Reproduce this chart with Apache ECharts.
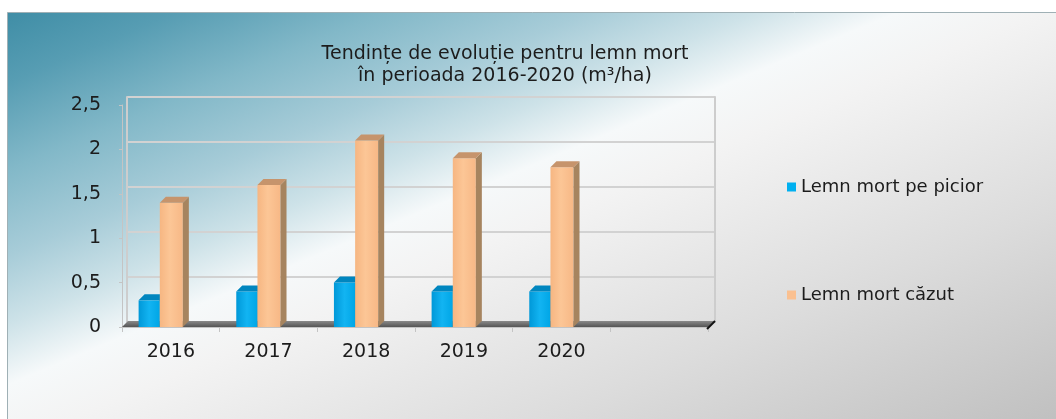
<!DOCTYPE html>
<html>
<head>
<meta charset="utf-8">
<title>Lemn mort</title>
<script src="https://cdn.jsdelivr.net/npm/echarts@6/dist/echarts.min.js"></script>
<style>
html, body { margin: 0; padding: 0; background: #fff; }
#chart { width: 1056px; height: 419px; }
</style>
</head>
<body>
<div id="chart"></div>
<script>
// date
var years = ['2016', '2017', '2018', '2019', '2020', ''];
var yTicks = [0, 0.5, 1, 1.5, 2, 2.5];
var pePicior = [0.3, 0.4, 0.5, 0.4, 0.4];
var cazut = [1.4, 1.6, 2.1, 1.9, 1.8];
var seriesNames = ['Lemn mort pe picior', 'Lemn mort căzut'];

var FONT = 'DejaVu Sans';
var TXT = '#1c1c1c';

// coloana 3D: fata + latura + capac
function bar3d(from, to, front, top, side) {
    return function (params, api) {
        var i = api.value(0), v = api.value(1);
        var base = api.coord([i, 0]);
        var head = api.coord([i, v]);
        var bw = api.size([1, 0])[0];
        var x0 = base[0] + from * bw, x1 = base[0] + to * bw;
        var d = 6;
        var yb = base[1], yt = head[1];
        return {
            type: 'group',
            children: [
                { type: 'rect', shape: { x: x0, y: yt, width: x1 - x0, height: yb - yt }, style: { fill: front } },
                { type: 'polygon', shape: { points: [[x1, yt], [x1 + d, yt - d], [x1 + d, yb - d], [x1, yb]] }, style: { fill: side } },
                { type: 'polygon', shape: { points: [[x0, yt], [x0 + d, yt - d], [x1 + d, yt - d], [x1, yt]] }, style: { fill: top } }
            ]
        };
    };
}

// podeaua gri
function floor(params, api) {
    var bw = api.size([1, 0])[0];
    var a = api.coord([0, 0]);
    var b = api.coord([years.length - 1, 0]);
    var l = a[0] - bw / 2, r = b[0] + bw / 2, y = a[1];
    return {
        type: 'group',
        children: [
            { type: 'polygon', shape: { points: [[l, y], [r, y], [r + 6, y - 6], [l + 6, y - 6]] },
              style: { fill: new echarts.graphic.LinearGradient(0, 0, 0, 1, [
                  { offset: 0, color: '#8a8a8a' }, { offset: 1, color: '#555' }]) } },
            { type: 'line', shape: { x1: r - 1, y1: y + 2, x2: r + 7, y2: y - 6 }, style: { stroke: '#111', lineWidth: 2 } }
        ]
    };
}

var chart = echarts.init(document.getElementById('chart'));
var option = {
    backgroundColor: '#fff',
    animation: false,
    graphic: [{
        type: 'rect', z: -10, silent: true,
        shape: { x: 7.5, y: 12.5, width: 1100, height: 500 },
        style: {
            stroke: '#9fb0b5', lineWidth: 1,
            fill: {
                type: 'linear', x: 0, y: 0, x2: 307, y2: 734, global: true,
                colorStops: [
                    { offset: 0, color: '#3a8aa3' },
                    { offset: 0.1, color: '#579db3' },
                    { offset: 0.2, color: '#82b8c8' },
                    { offset: 0.3, color: '#a7ccd8' },
                    { offset: 0.38, color: '#cde2e8' },
                    { offset: 0.45, color: '#f6f9fa' },
                    { offset: 0.52, color: '#f3f3f3' },
                    { offset: 0.75, color: '#dcdcdc' },
                    { offset: 1, color: '#c0c0c0' }
                ]
            }
        }
    }],
    title: {
        text: 'Tendințe de evoluție pentru lemn mort\nîn perioada 2016-2020 (m³/ha)',
        left: 500,
        top: 38,
        textAlign: 'center',
        textStyle: { fontFamily: FONT, fontSize: 19, fontWeight: 'normal', color: TXT, lineHeight: 22 }
    },
    legend: {
        data: seriesNames,
        orient: 'vertical',
        left: 787,
        top: 176,
        padding: 0,
        itemGap: 86,
        itemWidth: 9,
        itemHeight: 9,
        icon: 'rect',
        textStyle: { fontFamily: FONT, fontSize: 18, color: TXT, lineHeight: 22 }
    },
    grid: [
        { left: 122, right: 348, top: 105, bottom: 92 },   // fata
        { left: 127, right: 341, top: 97, bottom: 97 }     // peretele din spate
    ],
    xAxis: [
        {
            type: 'category', gridIndex: 0, data: years,
            axisLine: { lineStyle: { color: '#c4c4c4', width: 1 } },
            axisTick: { show: true, length: 5, lineStyle: { color: '#c4c4c4' } },
            axisLabel: { interval: 0, margin: 16, fontFamily: FONT, fontSize: 19, color: TXT },
            splitLine: { show: false }
        },
        { type: 'category', gridIndex: 1, data: years, show: false }
    ],
    yAxis: [
        {
            type: 'value', gridIndex: 0,
            min: yTicks[0], max: yTicks[yTicks.length - 1], interval: yTicks[1] - yTicks[0],
            axisLine: { show: true, lineStyle: { color: '#c4c4c4', width: 1 } },
            axisTick: { show: true, length: 3, lineStyle: { color: '#c4c4c4' } },
            axisLabel: {
                margin: 21, fontFamily: FONT, fontSize: 19, color: TXT,
                formatter: function (v) { return String(v).replace('.', ','); }
            },
            splitLine: { show: false }
        },
        {
            type: 'value', gridIndex: 1,
            min: yTicks[0], max: yTicks[yTicks.length - 1], interval: yTicks[1] - yTicks[0],
            axisLine: { show: true, lineStyle: { color: '#cdcdcd', width: 2 } },
            axisTick: { show: false }, axisLabel: { show: false },
            splitLine: { show: true, lineStyle: { color: '#d2d2d2', width: 2 } }
        },
        {
            type: 'value', gridIndex: 1, position: 'right',
            min: yTicks[0], max: yTicks[yTicks.length - 1], interval: yTicks[1] - yTicks[0],
            axisLine: { show: true, lineStyle: { color: '#cdcdcd', width: 2 } },
            axisTick: { show: false }, axisLabel: { show: false }, splitLine: { show: false }
        }
    ],
    series: [
        {
            type: 'custom', name: 'floor', xAxisIndex: 0, yAxisIndex: 0, silent: true, z: 1,
            renderItem: floor, data: [[0, 0]], encode: { x: 0, y: 1 }
        },
        {
            type: 'custom', name: seriesNames[0], xAxisIndex: 0, yAxisIndex: 0, z: 3,
            itemStyle: { color: '#00b0f0' },
            renderItem: bar3d(-0.33, -0.113,
                new echarts.graphic.LinearGradient(0, 0, 1, 0, [
                    { offset: 0, color: '#0098d8' }, { offset: 0.5, color: '#12b4f2' }, { offset: 1, color: '#00a6e6' }]),
                '#0086bf', '#006f9e'),
            data: pePicior.map(function (v, i) { return [i, v]; }),
            encode: { x: 0, y: 1 }
        },
        {
            type: 'custom', name: seriesNames[1], xAxisIndex: 0, yAxisIndex: 0, z: 4,
            itemStyle: { color: '#fac090' },
            renderItem: bar3d(-0.113, 0.123,
                new echarts.graphic.LinearGradient(0, 0, 1, 0, [
                    { offset: 0, color: '#f6b682' }, { offset: 0.45, color: '#fcc696' }, { offset: 1, color: '#f7b886' }]),
                '#c6946c', '#a6845f'),
            data: cazut.map(function (v, i) { return [i, v]; }),
            encode: { x: 0, y: 1 }
        }
    ]
};
chart.setOption(option);
</script>
</body>
</html>
